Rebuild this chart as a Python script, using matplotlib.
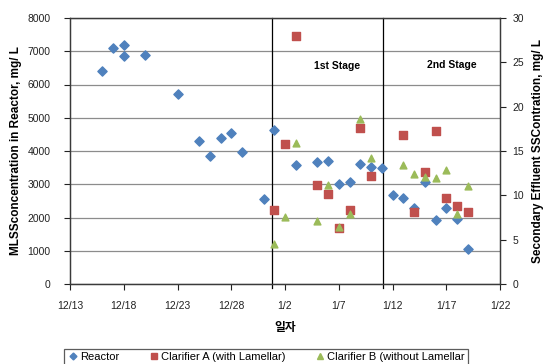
import matplotlib.pyplot as plt
from matplotlib.lines import Line2D

plt.rcParams['font.family'] = ['Liberation Sans', 'Noto Sans CJK KR', 'DejaVu Sans']

# x positions are days counted from 12/13
tick_days = [0, 5, 10, 15, 20, 25, 30, 35, 40]
tick_labels = ['12/13', '12/18', '12/23', '12/28', '1/2', '1/7', '1/12', '1/17', '1/22']

reactor_day = [3, 4, 5, 5, 7, 10, 12, 13, 14, 15, 16, 18, 19, 21, 23, 24, 25, 26,
               27, 28, 29, 30, 31, 32, 33, 34, 35, 36, 37]
reactor_mlss = [6400, 7100, 7200, 6850, 6880, 5700, 4300, 3840, 4400, 4530, 3970,
                2550, 4640, 3590, 3670, 3710, 3020, 3080, 3610, 3530, 3480, 2670,
                2590, 2300, 3080, 1925, 2280, 1960, 1040]

clar_day = [19, 20, 21, 23, 24, 25, 26, 27, 28, 31, 32, 33, 34, 35, 36, 37]
clar_a_ss = [8.4, 15.8, 28.0, 11.2, 10.1, 6.3, 8.4, 17.6, 12.2, 16.8, 8.1, 12.6,
             17.2, 9.7, 8.8, 8.1]
clar_b_ss = [4.5, 7.6, 15.9, 7.1, 11.2, 6.4, 7.9, 18.6, 14.2, 13.4, 12.4, 12.1,
             12.0, 12.9, 7.9, 11.0]

stage_lines = [18.8, 29.15]

blue = '#4F81BD'
red = '#C0504D'
green = '#9BBB59'

fig = plt.figure(figsize=(5.43, 3.64), dpi=100)
ax = fig.add_axes([70 / 543, 80 / 364, 430 / 543, 266 / 364])
ax2 = ax.twinx()

ax.scatter(reactor_day, reactor_mlss, marker='D', s=22, color=blue, zorder=3)
ax2.scatter(clar_day, clar_a_ss, marker='s', s=40, color=red, zorder=3)
ax2.scatter(clar_day, clar_b_ss, marker='^', s=24, color=green, zorder=4)

ax.set_xlim(0, 40)
ax.set_ylim(0, 8000)
ax2.set_ylim(0, 30)
ax.set_xticks(tick_days)
ax.set_xticklabels(tick_labels)
ax.set_yticks(range(0, 8001, 1000))
ax2.set_yticks(range(0, 31, 5))

ax.grid(axis='y', color='#8c8c8c', lw=0.9)
ax.set_axisbelow(True)

for d in stage_lines:
    ax.plot([d, d], [-130, 8000], color='black', lw=0.9, clip_on=False, zorder=2)

ax.text(24.8, 6560, '1st Stage', ha='center', va='center', fontsize=7.5,
        fontweight='bold')
ax.text(35.5, 6580, '2nd Stage', ha='center', va='center', fontsize=7.5,
        fontweight='bold')

for a in (ax, ax2):
    for s in a.spines.values():
        s.set_color('#3a3a3a')
        s.set_linewidth(0.9)
ax.tick_params(axis='y', labelsize=7.5, length=4, pad=10, colors='#222222')
ax.tick_params(axis='x', labelsize=7.5, length=4, pad=8, colors='#222222')
ax2.tick_params(axis='y', labelsize=7.5, length=4, pad=5, colors='#222222')

ax.set_xlabel('일자', fontsize=8.5, fontweight='bold', labelpad=8)
ax.set_ylabel('MLSSconcentration in Reactor, mg/ L', fontsize=8.5,
              fontweight='bold', labelpad=4)
ax2.set_ylabel('Secondary Effluent SSContration, mg/ L', fontsize=8.5,
               fontweight='bold', labelpad=6)

handles = [
    Line2D([], [], marker='D', ls='', color=blue, markersize=3.5),
    Line2D([], [], marker='s', ls='', color=red, markersize=4.5),
    Line2D([], [], marker='^', ls='', color=green, markersize=4),
]
names = ['Reactor', 'Clarifier A (with Lamellar)', 'Clarifier B (without Lamellar']
leg = fig.legend(handles, names, loc='upper center', bbox_to_anchor=(266 / 543, 15 / 364),
                 ncol=3, fontsize=8, frameon=True, fancybox=False,
                 handletextpad=0.15, columnspacing=2.6, borderpad=0.3,
                 handlelength=1.0, borderaxespad=0)
leg.get_frame().set_edgecolor('#333333')
leg.get_frame().set_linewidth(0.9)

fig.savefig('out.png', dpi=100)
